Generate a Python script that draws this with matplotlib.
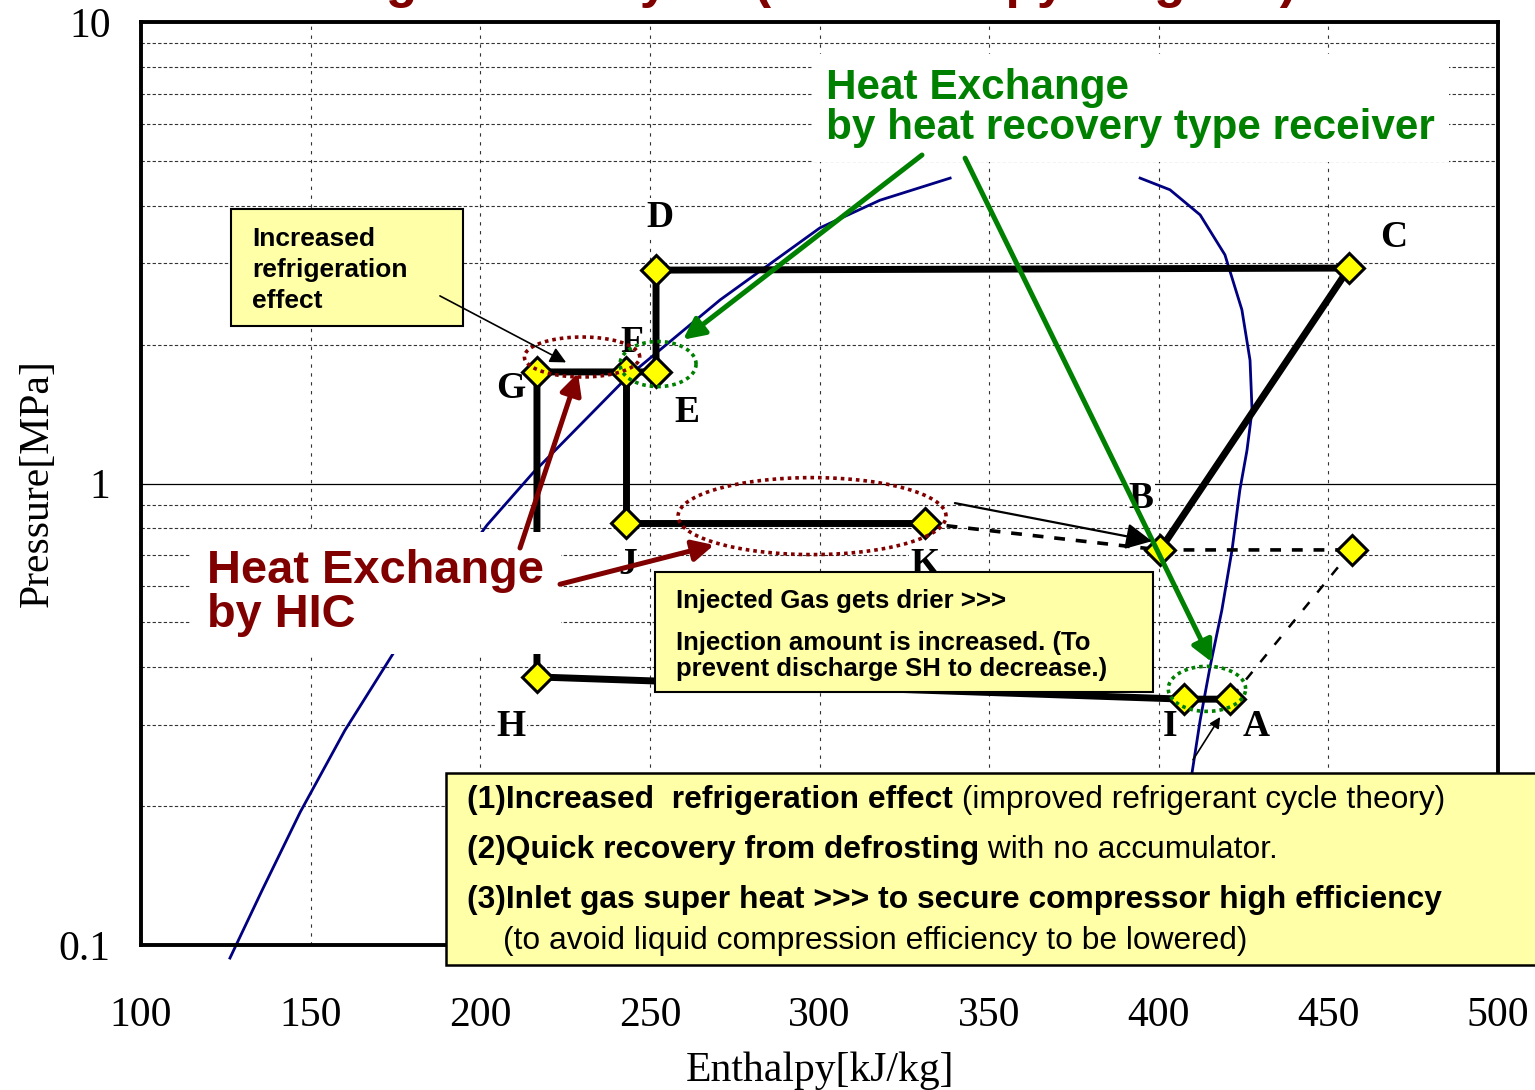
import numpy as np
import matplotlib.pyplot as plt
from matplotlib.patches import Rectangle

# cycle state points (enthalpy kJ/kg, pressure MPa)
point_names = ['A', 'B', 'C', 'D', 'E', 'F', 'G', 'H', 'I', 'J', 'K']
h_points = [421.0, 400.4, 456.1, 251.8, 251.8, 243.0, 216.7, 216.7, 407.4, 243.0, 331.1]
p_points = [0.341, 0.718, 2.93, 2.90, 1.745, 1.745, 1.745, 0.381, 0.341, 0.820, 0.820]

# first-stage discharge without injection
h_stage1 = 457.0
p_stage1 = 0.718

# saturated liquid / saturated vapour lines
h_liq = [126.2, 135.7, 146.9, 160.1, 174.9, 202.0, 215.5, 243.3, 270.7, 300.1, 317.8, 338.5]
p_liq = [0.0937, 0.1315, 0.194, 0.292, 0.435, 0.813, 1.054, 1.70, 2.50, 3.58, 4.11, 4.59]
h_vap = [394.5, 403.3, 412.2, 419.5, 424.5, 426.9, 427.5, 426.0, 423.9, 421.6, 418.6,
         415.1, 412.2, 409.8, 407.7]
p_vap = [4.59, 4.33, 3.82, 3.13, 2.38, 1.85, 1.44, 1.18, 0.968, 0.718, 0.532,
         0.400, 0.307, 0.236, 0.169]

x_ticks = [100, 150, 200, 250, 300, 350, 400, 450, 500]
y_ticks = [0.1, 1, 10]
y_ticklabels = ['0.1', '1', '10']

SANS = 'Liberation Sans'
SERIF = 'Liberation Serif'
MAROON = '#800000'
GREEN = '#008000'
NAVY = '#000080'
NOTE_FILL = '#FFFFA8'

pt = dict(zip(point_names, zip(h_points, p_points)))


def path(*names):
    hs = [pt[n][0] for n in names]
    ps = [pt[n][1] for n in names]
    return hs, ps


fig = plt.figure(figsize=(15.35, 10.90), dpi=100)
ax = fig.add_axes([0.0919, 0.1330, 0.8840, 0.8468])
ax.set_yscale('log')
ax.set_xlim(100, 500)
ax.set_ylim(0.1, 10)

# grid
ax.set_xticks(x_ticks)
ax.set_yticks(y_ticks)
ax.set_yticks([0.2, 0.3, 0.4, 0.5, 0.6, 0.7, 0.8, 0.9, 2, 3, 4, 5, 6, 7, 8, 9], minor=True)
ax.yaxis.set_minor_formatter(plt.NullFormatter())
ax.set_yticklabels(y_ticklabels)
ax.grid(axis='x', which='major', color='#333333', lw=0.8, ls=(0, (3, 5)))
ax.grid(axis='y', which='minor', color='#333333', lw=0.8, ls=(0, (3, 2)))
ax.grid(axis='y', which='major', color='black', lw=0.9, ls='-')
ax.set_axisbelow(True)
ax.tick_params(which='both', length=0)
ax.tick_params(axis='x', pad=37)
ax.tick_params(axis='y', pad=22)
for lab in ax.get_xticklabels() + ax.get_yticklabels():
    lab.set_fontfamily(SERIF)
    lab.set_fontsize(30)
for sp in ax.spines.values():
    sp.set_linewidth(2.8)

ax.set_xlabel('Enthalpy[kJ/kg]', fontfamily=SERIF, fontsize=30, labelpad=12)
ax.set_ylabel('Pressure[MPa]', fontfamily=SERIF, fontsize=30, labelpad=1)

# saturation lines
ax.plot(h_liq, p_liq, color=NAVY, lw=2, zorder=2, clip_on=False)
ax.plot(h_vap, p_vap, color=NAVY, lw=2, zorder=2)

# cycle
thick = dict(color='black', lw=5, zorder=3, solid_capstyle='butt')
ax.plot(*path('C', 'D', 'E', 'F', 'G', 'H'), **thick)
ax.plot(*path('H', 'I', 'A'), **thick)
ax.plot(*path('F', 'J', 'K'), **thick)
ax.plot(*path('C', 'B'), **thick)
ax.plot([pt['K'][0], pt['B'][0], h_stage1], [pt['K'][1], pt['B'][1], p_stage1],
        color='black', lw=2.6, ls=(0, (3, 3)), zorder=3)
ax.plot([h_stage1, pt['A'][0]], [p_stage1, pt['A'][1]],
        color='black', lw=1.8, ls=(0, (4, 5)), zorder=3)

ax.plot(h_points, p_points, ls='none', marker='D', ms=15, mfc='#FFFF00',
        mec='black', mew=2.2, zorder=6)
ax.plot([h_stage1], [p_stage1], ls='none', marker='D', ms=15, mfc='#FFFF00',
        mec='black', mew=2.2, zorder=6)

# point letters
label_offsets = {'A': (19, -20), 'B': (-14, 37), 'C': (32, 22), 'D': (3, 38),
                 'E': (22, -29), 'F': (4, 21), 'G': (-19, -12), 'H': (-19, -36),
                 'I': (-10, -20), 'J': (1, -30), 'K': (0, -30)}
for name, (dx, dy) in label_offsets.items():
    bg = None if name == 'F' else dict(fc='white', ec='none', pad=1)
    ax.annotate(name, pt[name], xytext=(dx, dy), textcoords='offset points',
                ha='center', va='center', fontfamily=SERIF, fontweight='bold',
                fontsize=27, bbox=bg, zorder=4)

# dotted rings around the heat exchange sections
theta = np.linspace(0, 2 * np.pi, 120)
rings = [(230.0, 1.88, 17.0, 0.0433, MAROON), (297.8, 0.850, 39.5, 0.0834, MAROON),
         (252.4, 1.815, 11.2, 0.0488, GREEN), (414.2, 0.359, 11.4, 0.0488, GREEN)]
for hc, pc, a, b, col in rings:
    ax.plot(hc + a * np.cos(theta), pc * 10 ** (b * np.sin(theta)),
            color=col, lw=2.6, ls=(0, (1, 1.1)), zorder=7)

# annotations
ax.text(0.5048, 0.9500, 'Heat Exchange\nby heat recovery type receiver',
        transform=ax.transAxes, ha='left', va='top', color=GREEN,
        fontfamily=SANS, fontweight='bold', fontsize=30.4, linespacing=1.0,
        bbox=dict(fc='white', ec='none', pad=10), zorder=4)
ax.text(0.0486, 0.4290, 'Heat Exchange\nby HIC', transform=ax.transAxes,
        ha='left', va='top', color=MAROON, fontfamily=SANS, fontweight='bold',
        fontsize=33.8, linespacing=1.0, bbox=dict(fc='white', ec='none', pad=12),
        zorder=4)

arrow_green = dict(arrowstyle='-|>', color=GREEN, lw=3.6, mutation_scale=32,
                   shrinkA=0, shrinkB=0)
arrow_red = dict(arrowstyle='-|>', color=MAROON, lw=3.6, mutation_scale=32,
                 shrinkA=0, shrinkB=0)
ax.annotate('', xy=(259.8, 2.05), xytext=(330.2, 5.15), arrowprops=arrow_green, zorder=9)
ax.annotate('', xy=(415.7, 0.410), xytext=(342.9, 5.07), arrowprops=arrow_green, zorder=9)
ax.annotate('', xy=(228.8, 1.736), xytext=(211.7, 0.725), arrowprops=arrow_red, zorder=9)
ax.annotate('', xy=(268.9, 0.736), xytext=(223.5, 0.605), arrowprops=arrow_red, zorder=9)
ax.annotate('', xy=(398.0, 0.750), xytext=(339.9, 0.907),
            arrowprops=dict(arrowstyle='-|>', color='black', lw=1.6,
                            mutation_scale=40, shrinkA=0, shrinkB=0), zorder=9)
ax.annotate('', xy=(418.1, 0.312), xytext=(410.1, 0.252),
            arrowprops=dict(arrowstyle='-|>', color='black', lw=1.2,
                            mutation_scale=16, shrinkA=0, shrinkB=0), zorder=9)
ax.annotate('', xy=(225.3, 1.83), xytext=(188.1, 2.55),
            arrowprops=dict(arrowstyle='-|>', color='black', lw=1.2,
                            mutation_scale=24, shrinkA=0, shrinkB=0), zorder=9)

# note boxes inside the axes
ax.add_patch(Rectangle((0.0663, 0.6706), 0.1710, 0.1268, transform=ax.transAxes,
                       fc=NOTE_FILL, ec='black', lw=1.5, zorder=8))
ax.text(0.0818, 0.778, 'Increased\nrefrigeration\neffect', transform=ax.transAxes,
        ha='left', va='top', fontfamily=SANS, fontweight='bold', fontsize=19,
        linespacing=1.36, zorder=8.5)

ax.add_patch(Rectangle((0.3788, 0.2741), 0.3670, 0.1300, transform=ax.transAxes,
                       fc=NOTE_FILL, ec='black', lw=1.5, zorder=8))
ax.text(0.3942, 0.3860, 'Injected Gas gets drier >>>', transform=ax.transAxes,
        ha='left', va='top', fontfamily=SANS, fontweight='bold', fontsize=18.5,
        zorder=8.5)
ax.text(0.3942, 0.3400, 'Injection amount is increased. (To\nprevent discharge SH to decrease.)',
        transform=ax.transAxes, ha='left', va='top', fontfamily=SANS,
        fontweight='bold', fontsize=18.5, linespacing=1.08, zorder=8.5)

# summary box across the bottom
ax.add_patch(Rectangle((0.2906, 0.1147), 0.75, 0.1761, transform=fig.transFigure,
                       fc=NOTE_FILL, ec='black', lw=1.8, clip_on=False, zorder=20))
summary = [
    ('(1)Increased  refrigeration effect', ' (improved refrigerant cycle theory)', 0.2661),
    ('(2)Quick recovery from defrosting', ' with no accumulator.', 0.2202),
    ('(3)Inlet gas super heat >>> to secure compressor high efficiency', '', 0.1743),
]
for bold_part, plain_part, y in summary:
    t = ax.text(0.3042, y, bold_part, transform=fig.transFigure, ha='left',
                va='center', fontfamily=SANS, fontweight='bold', fontsize=22.9,
                clip_on=False, zorder=21)
    if plain_part:
        ax.annotate(plain_part, xy=(1, 0), xycoords=t, ha='left', va='bottom',
                    fontfamily=SANS, fontsize=22.9, annotation_clip=False, zorder=21)
ax.text(0.3277, 0.1367, '(to avoid liquid compression efficiency to be lowered)',
        transform=fig.transFigure, ha='left', va='center', fontfamily=SANS,
        fontsize=22.9, clip_on=False, zorder=21)

# title, mostly above the top edge
fig.text(0.175, 1.0028, 'Refrigeration Cycle (on Enthalpy diagram)', ha='left',
         va='baseline', color=MAROON, fontfamily=SANS, fontweight='bold', fontsize=37)

fig.savefig('out.png', dpi=100)
